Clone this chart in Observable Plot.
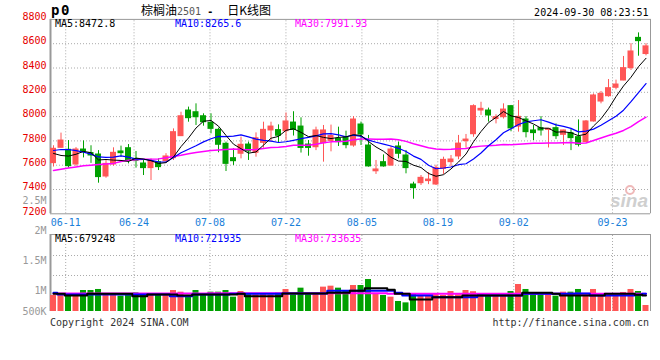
<!DOCTYPE html>
<html><head><meta charset="utf-8">
<script src="https://cdn.jsdelivr.net/npm/d3@7"></script>
<script src="https://cdn.jsdelivr.net/npm/@observablehq/plot@0.6"></script>
<style>
html,body{margin:0;padding:0;background:#fff}
#chart{position:relative;width:660px;height:360px;background:#fff;overflow:hidden}
#chart svg{position:absolute;left:0;overflow:visible}
</style></head><body><div id="chart"></div>
<script>
// ---------- data ----------
const dateTickLabels = ["06-11","06-24","07-08","07-22","08-05","08-19","09-02","09-23"];
const dateTickIndex  = [2, 11, 21, 31, 41, 51, 61, 74];
const priceTicks = [8800, 8600, 8400, 8200, 8000, 7800, 7600, 7400, 7200];
const volTickLabels = ["2.5M", "2M", "1.5M", "1M", "500K"];
const volTickValues = [2500000, 2000000, 1500000, 1000000, 500000];

const openP = [7617,7743,7727,7606,7729,7700,7688,7507,7606,7713,
  7740,7652,7614,7576,7625,7633,7658,7839,8050,8036,
  8003,7949,7891,7776,7658,7694,7770,7702,7784,7886,
  7889,7880,7951,7918,7770,7748,7781,7800,7817,7831,
  7762,7935,7762,7550,7625,7597,7754,7680,7441,7452,
  7469,7441,7570,7625,7672,7798,7855,8050,8050,7980,
  7995,8086,7918,7976,7886,7905,7891,7905,7850,7864,
  7831,7790,7960,8124,8168,8237,8297,8399,8648,8515];
const highP = [7760,7864,7803,7745,7800,7760,7720,7640,7743,7757,
  7770,7713,7640,7652,7652,7695,7899,8036,8078,8105,
  8023,8023,7905,7790,7735,7831,7790,7866,7954,7954,
  7932,8030,8040,7990,7803,7913,7927,7930,7913,7880,
  8000,7955,7845,7639,7685,7754,7790,7721,7460,7515,
  7540,7600,7666,7680,7845,7853,8097,8118,8070,8015,
  8105,8092,8132,8000,7927,8000,7900,7940,7888,7895,
  7973,7968,8187,8207,8305,8300,8495,8600,8689,8600];
const lowP = [7585,7740,7576,7590,7660,7615,7452,7493,7592,7666,
  7611,7576,7515,7474,7556,7625,7639,7836,7954,7927,
  7921,7858,7702,7548,7598,7652,7639,7666,7740,7790,
  7780,7800,7840,7700,7674,7720,7625,7710,7754,7735,
  7748,7762,7584,7524,7584,7592,7652,7529,7320,7433,
  7440,7433,7524,7585,7645,7740,7830,8010,7955,7940,
  7980,7875,7872,7825,7803,7840,7742,7812,7762,7720,
  7750,7785,7955,8105,8160,8220,8295,8380,8497,8500];
const closeP = [7735,7803,7592,7729,7713,7680,7502,7611,7702,7699,
  7640,7636,7576,7636,7584,7672,7872,8003,7987,7995,
  7954,7899,7768,7611,7633,7768,7713,7822,7891,7918,
  7842,7960,7890,7742,7742,7886,7886,7840,7790,7765,
  7976,7853,7590,7565,7590,7729,7694,7576,7411,7496,
  7482,7578,7644,7647,7778,7811,8086,8064,8009,7995,
  8058,7903,7998,7872,7864,7886,7899,7839,7886,7823,
  7768,7960,8174,8187,8234,8264,8399,8536,8621,8578];
const ma5 = [7697,7680,7675,7690,7714,7703,7643,7647,7642,7639,
  7631,7658,7651,7637,7614,7621,7668,7753,7824,7906,
  7962,7968,7921,7845,7773,7736,7699,7709,7765,7822,
  7837,7887,7900,7870,7835,7844,7829,7819,7829,7833,
  7851,7845,7795,7750,7715,7665,7634,7631,7600,7581,
  7532,7509,7522,7569,7626,7692,7793,7877,7950,7993,
  8042,8006,7993,7965,7939,7905,7904,7872,7875,7867,
  7843,7855,7922,7982,8065,8164,8252,8324,8411,8480];
const ma10 = [7721,7729,7729,7720,7707,7691,7668,7665,7666,7677,
  7667,7650,7649,7640,7627,7626,7663,7702,7731,7760,
  7792,7818,7837,7835,7839,7849,7833,7815,7805,7798,
  7787,7793,7805,7818,7829,7841,7858,7860,7850,7834,
  7848,7837,7807,7789,7774,7758,7739,7713,7675,7648,
  7599,7571,7577,7585,7604,7612,7651,7700,7760,7809,
  7867,7900,7935,7957,7966,7974,7955,7932,7920,7903,
  7874,7880,7897,7929,7966,8003,8053,8123,8197,8272];
const ma30 = [7557,7567,7576,7585,7595,7600,7606,7610,7615,7630,
  7640,7645,7648,7650,7652,7662,7672,7682,7694,7705,
  7713,7721,7726,7730,7733,7730,7728,7730,7738,7745,
  7748,7754,7764,7764,7765,7772,7785,7792,7795,7797,
  7809,7816,7816,7814,7814,7816,7810,7796,7777,7760,
  7744,7734,7729,7731,7736,7737,7749,7757,7761,7764,
  7771,7769,7773,7777,7781,7781,7782,7782,7785,7787,
  7780,7783,7803,7824,7845,7863,7886,7918,7959,7995];
const volume = [917000,933000,917000,917000,1000000,1000000,1017000,933000,933000,906000,
  917000,961000,933000,933000,917000,933000,1000000,972000,917000,1000000,
  944000,972000,972000,1000000,889000,983000,933000,928000,944000,928000,
  956000,1017000,928000,1039000,944000,944000,1056000,1072000,1039000,994000,
  1083000,1083000,1183000,933000,917000,889000,817000,794000,944000,900000,
  900000,944000,917000,983000,928000,1000000,980000,944000,917000,917000,
  917000,983000,1100000,1017000,944000,944000,944000,906000,972000,972000,
  1017000,906000,1017000,917000,917000,917000,967000,1017000,983000,750000];
const vma5 = [944000,944000,917000,917000,917000,944000,944000,944000,944000,944000,
  944000,906000,906000,933000,933000,933000,933000,917000,917000,933000,
  933000,933000,933000,933000,933000,944000,906000,906000,906000,906000,
  906000,950000,950000,950000,950000,950000,950000,961000,961000,961000,
  994000,994000,1039000,1039000,1039000,1011000,944000,944000,850000,850000,
  850000,889000,889000,889000,889000,917000,917000,917000,917000,917000,
  917000,917000,917000,961000,961000,961000,961000,944000,917000,917000,
  917000,917000,917000,917000,944000,944000,944000,944000,930000,917000];
const vma10 = [961000,933000,933000,933000,933000,933000,933000,933000,933000,933000,
  933000,933000,933000,933000,933000,933000,906000,906000,906000,933000,
  933000,933000,933000,933000,944000,944000,944000,944000,944000,944000,
  944000,950000,950000,950000,950000,950000,950000,994000,994000,994000,
  994000,994000,994000,994000,994000,994000,961000,917000,917000,917000,
  917000,889000,889000,889000,889000,889000,889000,917000,917000,917000,
  917000,917000,917000,944000,944000,944000,944000,944000,944000,944000,
  950000,950000,917000,917000,917000,917000,917000,917000,930000,944000];
const vma30 = [950000,950000,950000,950000,950000,950000,950000,950000,950000,950000,
  950000,950000,950000,950000,950000,950000,950000,950000,950000,950000,
  950000,955000,955000,955000,955000,955000,955000,955000,955000,955000,
  955000,955000,955000,955000,955000,955000,955000,955000,955000,955000,
  955000,955000,955000,955000,955000,944000,944000,944000,944000,944000,
  944000,944000,944000,944000,944000,944000,944000,944000,944000,944000,
  944000,944000,944000,944000,944000,944000,944000,944000,944000,944000,
  944000,944000,944000,944000,944000,944000,944000,944000,944000,944000];

// ---------- style / layout ----------
const MONO = "'DejaVu Sans Mono','Liberation Mono',monospace";
const CJK = "'Noto Sans CJK SC','Noto Sans',sans-serif";
const RED = "#ff5656", GREEN = "#00a000";
const GRID = "#aaaaaa", FRAME = "#999999";
const BODY_W = 0.8, WICK = 0.4;     // in candle-slot units
const VOL_PANEL_TOP = 1933000;      // volume panel top edge (same scale as bars)
const VOL_GRID = [1583000, 1250000];

const N = openP.length;
const rows = openP.map((o, i) => ({
  i, o, h: highP[i], l: lowP[i], c: closeP[i], v: volume[i],
  ma5: ma5[i], ma10: ma10[i], ma30: ma30[i],
  vma5: vma5[i], vma10: vma10[i], vma30: vma30[i],
  col: closeP[i] >= o ? RED : GREEN
}));
// date gridlines are spread over the full width (sina layout)
const tickVals = dateTickIndex.map(i => i * N / (N - 1));
const dateLabel = new Map(tickVals.map((t, k) => [t, dateTickLabels[k]]));
const volLabel = new Map(volTickValues.map((t, k) => [t, volTickLabels[k]]));
const dotted = {stroke: GRID, strokeDasharray: "1,2"};
const baseStyle = {background: "transparent", fontFamily: MONO, fontSize: "10px", overflow: "visible"};

const main = Plot.plot({
  width: 660, height: 232,
  marginLeft: 50, marginRight: 10, marginTop: 18.9, marginBottom: 18.7,
  x: {domain: [0, N], axis: null},
  y: {domain: [7200, 8800], axis: null},
  color: {type: "identity"},
  style: baseStyle,
  marks: [
    Plot.ruleY(priceTicks.slice(1, -1), {x1: 0, x2: N, ...dotted}),
    Plot.ruleX(tickVals, {y1: 7200, y2: 8800, ...dotted}),
    Plot.ruleY([8800, 7200], {x1: 0, x2: N, stroke: FRAME}),
    Plot.ruleX([0], {y1: 7200, y2: 8800, stroke: FRAME, strokeWidth: 2}),
    Plot.ruleX([N], {y1: 7200, y2: 8800, stroke: FRAME}),
    Plot.ruleX(rows, {x: d => d.i + WICK, y1: "l", y2: "h", stroke: "col", strokeWidth: 1}),
    Plot.rect(rows, {x1: "i", x2: d => d.i + BODY_W, y1: "o", y2: "c", fill: "col", insetTop: -0.5, insetBottom: -0.5}),
    Plot.line(rows, {x: d => d.i + WICK, y: "ma30", stroke: "#ff00ff", strokeWidth: 1.5}),
    Plot.line(rows, {x: d => d.i + WICK, y: "ma10", stroke: "#0000ff", strokeWidth: 1.2}),
    Plot.line(rows, {x: d => d.i + WICK, y: "ma5", stroke: "#000000", strokeWidth: 1}),
    Plot.axisY({ticks: priceTicks, tickFormat: d => String(d), tickSize: 0, tickPadding: 4, fill: "#e60000", dy: -2.5, label: null}),
    Plot.axisX({ticks: tickVals, tickFormat: d => dateLabel.get(d), tickSize: 0, tickPadding: 5, fill: "#1a80d9", label: null})
  ]
});

const vol = Plot.plot({
  width: 660, height: 140,
  marginLeft: 50, marginRight: 10, marginTop: 10, marginBottom: 19,
  x: {domain: [0, N], axis: null},
  y: {domain: [650000, 2500000], clamp: true, axis: null},
  color: {type: "identity"},
  style: baseStyle,
  marks: [
    Plot.ruleY(VOL_GRID, {x1: 0, x2: N, ...dotted}),
    Plot.ruleX(tickVals, {y1: 0, y2: VOL_PANEL_TOP, ...dotted}),
    Plot.ruleY([VOL_PANEL_TOP], {x1: 0, x2: N, stroke: FRAME}),
    Plot.ruleX([0], {y1: 0, y2: VOL_PANEL_TOP, stroke: FRAME, strokeWidth: 2}),
    Plot.ruleX([N], {y1: 0, y2: VOL_PANEL_TOP, stroke: FRAME}),
    Plot.rect(rows, {x1: "i", x2: d => d.i + BODY_W, y1: 0, y2: "v", fill: "col"}),
    Plot.line(rows, {x: d => d.i + WICK, y: "vma30", stroke: "#ff00ff", strokeWidth: 2, curve: "step"}),
    Plot.line(rows, {x: d => d.i + WICK, y: "vma10", stroke: "#0000ff", strokeWidth: 2, curve: "step"}),
    Plot.line(rows, {x: d => d.i + WICK, y: "vma5", stroke: "#000000", strokeWidth: 2, curve: "step"}),
    Plot.axisY({ticks: volTickValues, tickFormat: d => volLabel.get(d), tickSize: 0, tickPadding: 4, fill: "#999999", label: null})
  ]
});

const chart = document.getElementById("chart");
main.style.top = "0px";
vol.style.top = "190px";
chart.appendChild(main);
chart.appendChild(vol);

// ---------- titles, legends, captions ----------
const ov = d3.select(chart).append("svg")
  .attr("width", 660).attr("height", 360)
  .style("top", "0px").style("pointer-events", "none");
function label(x, y, txt, opts = {}) {
  return ov.append("text").attr("x", x).attr("y", y)
    .attr("text-anchor", opts.anchor || "start")
    .attr("font-family", opts.font || MONO)
    .attr("font-size", opts.size || 10)
    .attr("font-weight", opts.weight || "normal")
    .attr("font-style", opts.style || "normal")
    .attr("fill", opts.fill || "#000").text(txt);
}
label(51, 14.5, "p0", {size: 14, weight: "bold"}).attr("letter-spacing", 1.5);
const title = ov.append("text").attr("x", 141).attr("y", 14.5).attr("fill", "#000");
title.append("tspan").attr("font-family", CJK).attr("font-size", 12).text("棕榈油");
title.append("tspan").attr("font-family", MONO).attr("font-size", 10).attr("fill", "#555").text("2501");
title.append("tspan").attr("font-family", MONO).attr("font-size", 10).attr("font-weight", "bold").text(" - ");
title.append("tspan").attr("font-family", CJK).attr("font-size", 12).attr("dx", 8).text("日K线图");
label(648.5, 16, "2024-09-30 08:23:51", {anchor: "end"});

label(55, 27.3, "MA5:8472.8");
label(175, 27.3, "MA10:8265.6", {fill: "#0000ff"});
label(295, 27.3, "MA30:7991.93", {fill: "#ff00ff"});

label(55, 242.3, "MA5:679248");
label(175, 242.3, "MA10:721935", {fill: "#0000ff"});
label(295, 242.3, "MA30:733635", {fill: "#ff00ff"});

label(50, 326, "Copyright 2024 SINA.COM", {fill: "#333"});
label(649, 326, "http://finance.sina.com.cn", {anchor: "end", fill: "#333"});

// sina watermark
ov.append("circle").attr("cx", 630).attr("cy", 190).attr("r", 4)
  .attr("fill", "none").attr("stroke", "#efb9b9").attr("stroke-width", 2);
label(648, 207, "sina", {font: "'Liberation Sans',sans-serif", size: 19, weight: "bold", style: "italic", fill: "#cfcfcf", anchor: "end"});
</script></body></html>
